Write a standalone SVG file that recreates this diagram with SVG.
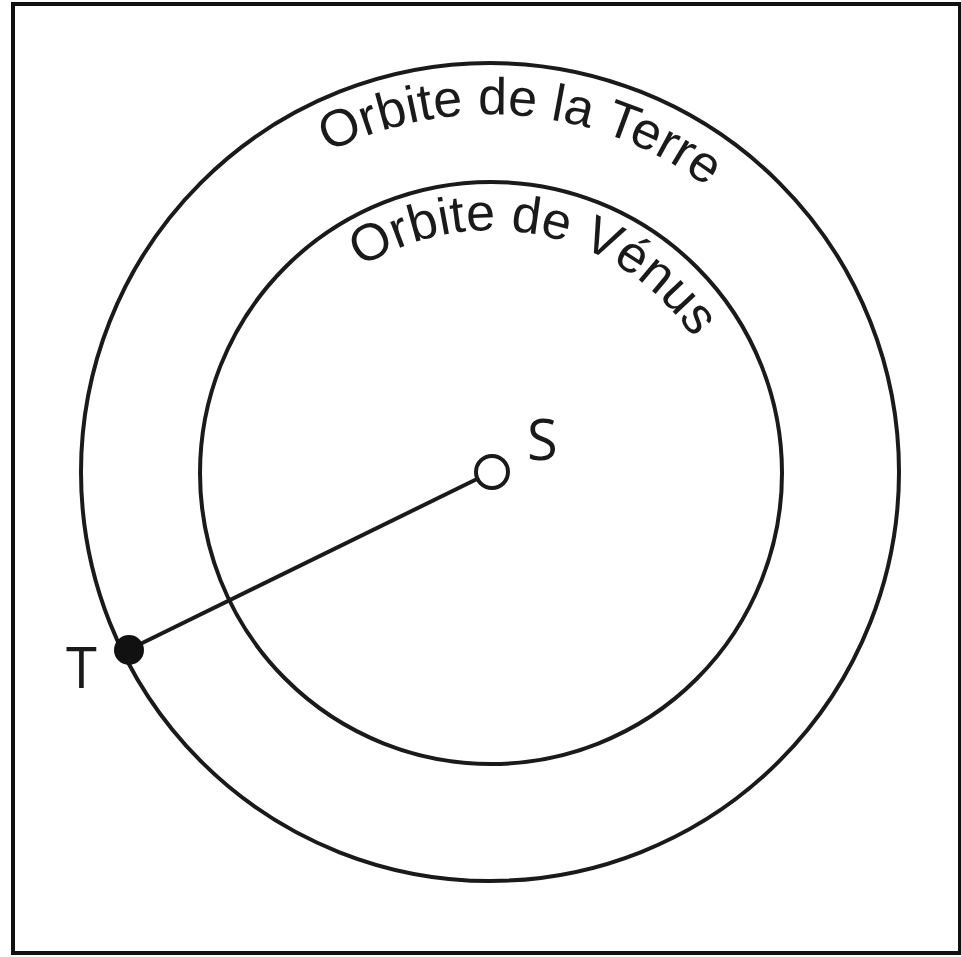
<svg xmlns="http://www.w3.org/2000/svg" width="961" height="957" viewBox="0 0 961 957">
<style>
.orbit{fill:none;stroke:#1a1a1a;stroke-width:4}
.lbl{font-family:"Liberation Sans",Arial,sans-serif;font-size:52px;fill:#1a1a1a}
.pt{font-family:"Open Sans","Noto Sans",sans-serif;font-size:56px;fill:#1a1a1a}
</style>
<defs>
<path id="pTerre" d="M130.5,439.3 A361,361 0 0 1 849.5,504.7"/>
<path id="pVenus" d="M253.3,422.5 A243,243 0 0 1 728.7,523.5"/>
</defs>
<rect x="0" y="0" width="961" height="957" fill="#fff"/>
<rect id="frame" x="13" y="4" width="947" height="949" fill="none" stroke="#111" stroke-width="4"/>
<g id="orbite-terre">
<circle class="orbit" cx="490" cy="472" r="409"/>
<text class="lbl"><textPath href="#pTerre" startOffset="50%" text-anchor="middle">Orbite de la Terre</textPath></text>
</g>
<g id="orbite-venus">
<circle class="orbit" cx="491" cy="473" r="291"/>
<text class="lbl"><textPath href="#pVenus" startOffset="50%" text-anchor="middle">Orbite de Vénus</textPath></text>
</g>
<g id="connectors">
<line x1="128" y1="650" x2="477" y2="479" stroke="#1a1a1a" stroke-width="4"/>
</g>
<g id="S">
<circle cx="492" cy="472" r="16" fill="#fff" stroke="#1a1a1a" stroke-width="4"/>
<text class="pt" x="527" y="460">S</text>
</g>
<g id="T">
<circle cx="129" cy="650" r="15" fill="#111"/>
<text class="pt" x="66" y="688">T</text>
</g>
</svg>
